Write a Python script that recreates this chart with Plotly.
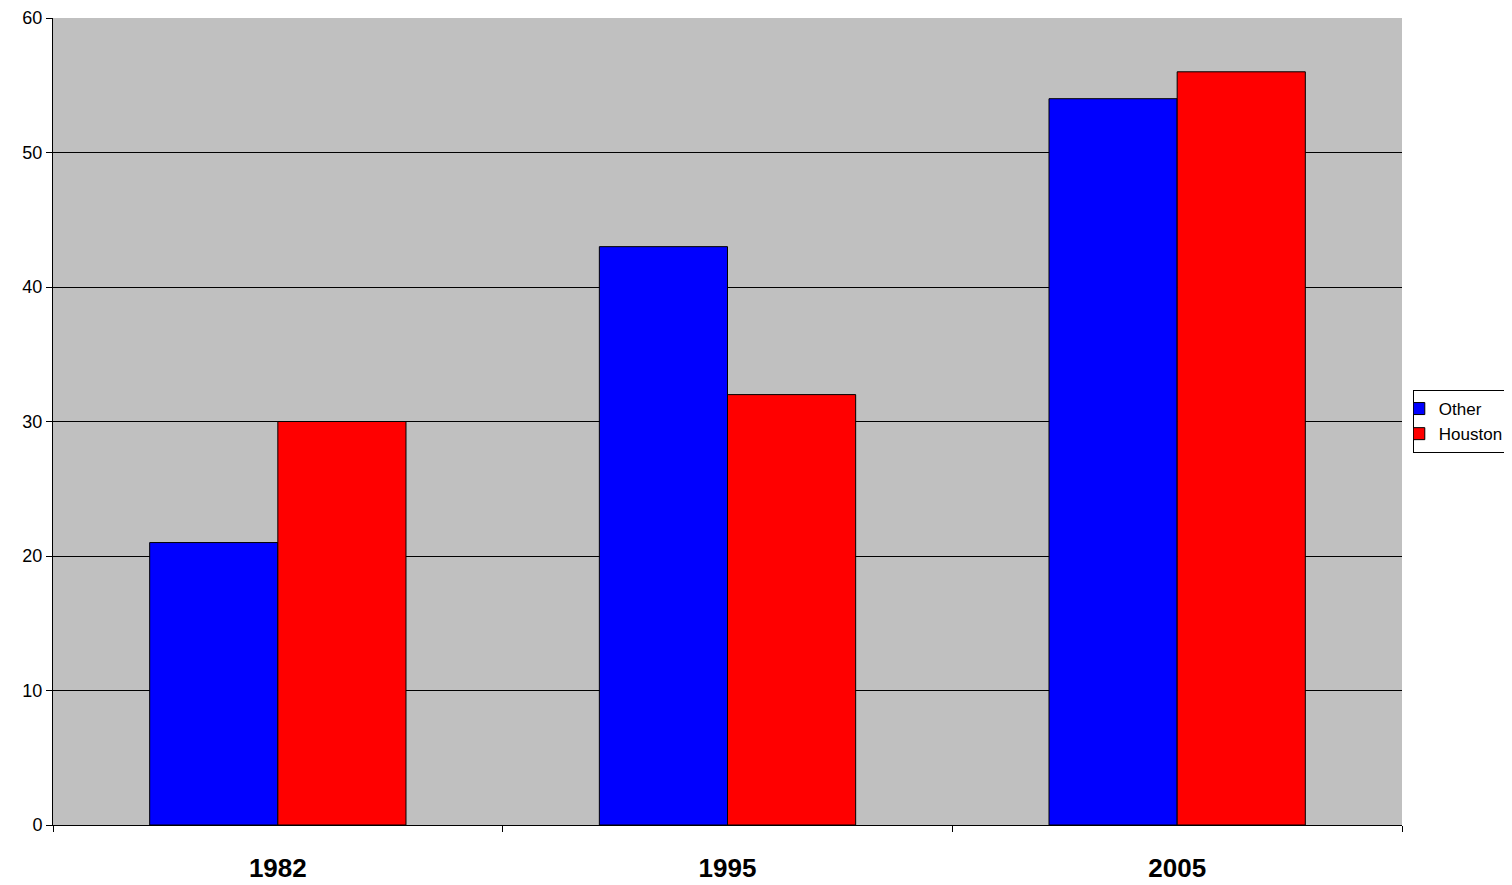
import plotly.graph_objects as go

years = ["1982", "1995", "2005"]
other = [21, 43, 54]
houston = [30, 32, 56]

fig = go.Figure()
fig.add_bar(x=years, y=other, name="Other", marker=dict(color="#0000FF", line=dict(color="black", width=1)))
fig.add_bar(x=years, y=houston, name="Houston", marker=dict(color="#FF0000", line=dict(color="black", width=1)))

fig.update_layout(
    width=1504, height=879,
    margin=dict(l=45, r=110, t=10, b=62, autoexpand=False),
    paper_bgcolor="white", plot_bgcolor="#C0C0C0",
    barmode="group", bargap=0.43, bargroupgap=0,
    font=dict(family="Liberation Sans, Arial", color="black"),
    showlegend=True,
    legend=dict(x=1.008, y=0.5, xanchor="left", yanchor="middle",
                bordercolor="black", borderwidth=1, bgcolor="white",
                font=dict(size=17), itemwidth=30, tracegroupgap=0,
                indentation=-15),
    xaxis=dict(tickson="boundaries", ticks="outside", ticklen=6, tickcolor="black",
               showline=True, linecolor="black", automargin=False, ticklabelstandoff=20,
               showgrid=False, tickfont=dict(size=26), tickprefix="<b>", ticksuffix="</b>"),
    yaxis=dict(range=[0, 60], dtick=10, ticks="outside", ticklen=6, tickcolor="black",
               showline=True, linecolor="black", gridcolor="black", gridwidth=1,
               automargin=False, tickfont=dict(size=18), zeroline=False),
)
fig.write_html("out.html")
